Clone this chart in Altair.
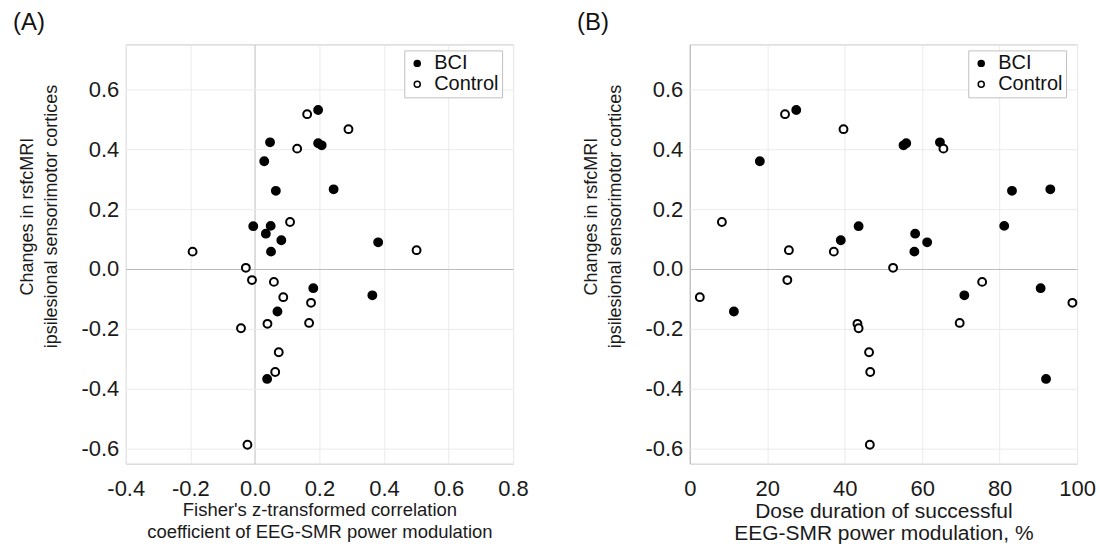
import altair as alt
import pandas as pd

# ---- data (same subjects in both panels) ----
groups = ["BCI", "Control"]

# BCI group
y_bci = [0.531, 0.423, 0.360, 0.420, 0.413, 0.261, 0.266, 0.143, 0.144, 0.118,
         0.096, 0.058, 0.089, -0.142, -0.064, -0.088, -0.367]
xa_bci = [0.196, 0.047, 0.029, 0.196, 0.207, 0.065, 0.244, -0.005, 0.049, 0.034,
          0.082, 0.050, 0.382, 0.070, 0.181, 0.364, 0.038]
xb_bci = [27.5, 64.6, 18.1, 55.9, 55.2, 83.2, 93.1, 43.6, 81.2, 58.2,
          39.0, 58.0, 61.3, 11.4, 90.6, 70.9, 92.0]

# Control group
y_ctrl = [0.517, 0.467, 0.402, 0.157, 0.058, 0.063, 0.004, -0.037, -0.043, -0.094,
          -0.113, -0.180, -0.183, -0.198, -0.278, -0.344, -0.587]
xa_ctrl = [0.162, 0.290, 0.131, 0.109, -0.193, 0.501, -0.028, -0.009, 0.059, 0.088,
           0.174, 0.168, 0.039, -0.043, 0.074, 0.063, -0.023]
xb_ctrl = [24.6, 39.7, 65.5, 8.3, 37.2, 25.6, 52.5, 25.2, 75.5, 2.6,
           98.8, 69.7, 43.3, 43.6, 46.3, 46.6, 46.5]

y_ticks = [-0.6, -0.4, -0.2, 0.0, 0.2, 0.4, 0.6]
xa_ticks = [-0.4, -0.2, 0.0, 0.2, 0.4, 0.6, 0.8]
xb_ticks = [0, 20, 40, 60, 80, 100]

y_title = ["Changes in rsfcMRI", "ipsilesional sensorimotor cortices"]
xa_title = ["Fisher's z-transformed correlation", "coefficient of EEG-SMR power modulation"]
xb_title = ["Dose duration of successful", "EEG-SMR power modulation, %"]
panel_labels = ["(A)", "(B)"]

FONT = "Liberation Sans"
GRID = {"condition": {"test": "datum.value === 0", "value": "#bdbdbd"}, "value": "#ebebeb"}


def make_df(xs_b, xs_c):
    return pd.DataFrame({
        "x": xs_b + xs_c,
        "y": y_bci + y_ctrl,
        "group": [groups[0]] * len(xs_b) + [groups[1]] * len(xs_c),
    })


fill_scale = alt.Scale(domain=groups, range=["black", "white"])


def panel(df, xdomain, xticks, xfmt, xtitle, xtsize, label):
    yaxis = alt.Axis(
        values=y_ticks,
        labelExpr="replace(format(datum.value, '.1f'), '\u2212', '-')",
        title=y_title, titleX=-107, titleY=172, titleAlign="center",
        titleBaseline="top", titleAngle=270, titleLineHeight=24,
        titleFontSize=18, titleFontWeight="normal", titleFont=FONT, titleColor="#1a1a1a",
        labelFontSize=22, labelFont=FONT, labelColor="#1a1a1a", labelPadding=7,
        domain=False, ticks=False, gridColor=GRID, gridWidth=1,
    )
    xaxis = alt.Axis(
        values=xticks,
        labelExpr=f"replace(format(datum.value, '{xfmt}'), '\u2212', '-')",
        labelFlush=False,
        title=xtitle, titleY=37, titleBaseline="top", titleLineHeight=22,
        titleFontSize=xtsize, titleFontWeight="normal", titleFont=FONT, titleColor="#1a1a1a",
        labelFontSize=22, labelFont=FONT, labelColor="#1a1a1a", labelPadding=15,
        domain=False, ticks=False, gridColor=GRID, gridWidth=1,
    )
    pts = alt.Chart(df).mark_point(
        filled=True, size=62, stroke="black", strokeWidth=2, opacity=1
    ).encode(
        x=alt.X("x:Q", scale=alt.Scale(domain=xdomain, nice=False, zero=False), axis=xaxis),
        y=alt.Y("y:Q", scale=alt.Scale(domain=[-0.65, 0.75], nice=False, zero=False), axis=yaxis),
        fill=alt.Fill("group:N", scale=fill_scale, legend=alt.Legend(
            orient="none", legendX=279, legendY=6, title=None,
            strokeColor="#c0c0c0", fillColor="white", padding=3,
            labelFontSize=20, labelFont=FONT, labelColor="#111",
            symbolType="circle", symbolSize=36, symbolStrokeColor="black",
            symbolStrokeWidth=1.5, rowPadding=1, labelOffset=7,
        )),
    )
    lab = alt.Chart(pd.DataFrame({"t": [label]})).mark_text(
        align="left", baseline="middle", fontSize=24, font=FONT, color="#111"
    ).encode(text="t:N", x=alt.value(-113), y=alt.value(-21))
    return alt.layer(pts, lab).properties(width=388, height=420)


pa = panel(make_df(xa_bci, xa_ctrl), [-0.4, 0.8], xa_ticks, ".1f", xa_title,
           18.5, panel_labels[0])
pb = panel(make_df(xb_bci, xb_ctrl), [0, 100], xb_ticks, "d", xb_title,
           21, panel_labels[1])

chart = alt.hconcat(pa, pb, spacing=177, bounds="flush").resolve_legend(
    fill="independent"
).resolve_scale(fill="independent").properties(
    padding={"left": 12, "top": 10, "right": 4, "bottom": 0},
    background="white",
).configure_view(stroke="#c8c8c8", strokeWidth=1)

chart.save("out.html", embed_options={"renderer": "svg", "actions": False})
